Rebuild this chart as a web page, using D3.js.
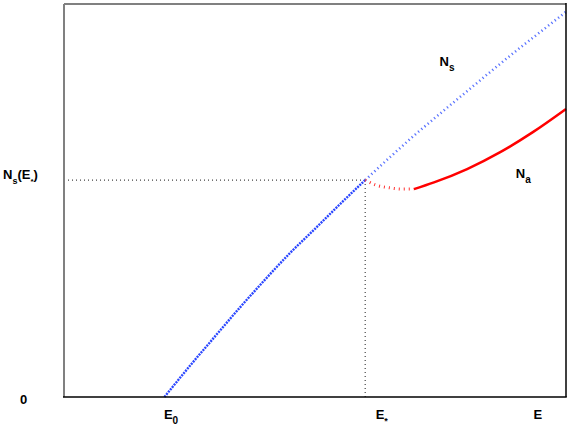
<!DOCTYPE html>
<html>
<head>
<meta charset="utf-8">
<script src="https://cdn.jsdelivr.net/npm/d3@7"></script>
<style>
  body { margin: 0; background: #fff; }
  text { font-family: "Liberation Sans", Arial, sans-serif; font-weight: bold; fill: #000; }
</style>
</head>
<body>
<div id="chart"></div>
<script>
// energy axis marks
var E0 = 2, Estar = 6, Emax = 10;
var NsEstar = 5.52;

// N_s(E) below E* (solid) and above E* (dotted)
var nsLow = [[2.0, 0], [2.5, 0.78], [3.0, 1.53], [3.5, 2.27], [4.0, 2.98], [4.5, 3.66], [5.0, 4.28], [5.5, 4.91], [6.0, 5.52]];
var nsHigh = [[6.0, 5.52], [6.5, 6.11], [7.0, 6.68], [7.5, 7.22], [8.0, 7.75], [8.5, 8.28], [9.0, 8.80], [9.5, 9.30], [10.0, 9.80]];

// N_a(E): dashed dip then solid rise
var naDip = [[6.0, 5.52], [6.2, 5.40], [6.5, 5.32], [6.75, 5.29], [6.97, 5.29]];
var naRise = [[6.97, 5.29], [7.37, 5.46], [8.03, 5.80], [8.69, 6.23], [9.34, 6.74], [10.0, 7.33]];

var svg = d3.select("#chart").append("svg"),
    width = 573,
    height = 436;
svg.attr("width", width).attr("height", height);

var pLeft = 64, pRight = 566, pTop = 4, pBottom = 397;

var x = d3.scaleLinear().domain([0, Emax]).range([pLeft, pRight]);
var y = d3.scaleLinear().domain([0, 10]).range([pBottom, pTop]);

var line = d3.line()
    .x(function(d) { return x(d[0]); })
    .y(function(d) { return y(d[1]); })
    .curve(d3.curveMonotoneX);

// reference lines at E*
svg.append("line")
    .attr("x1", x(0)).attr("x2", x(Estar))
    .attr("y1", y(NsEstar)).attr("y2", y(NsEstar))
    .attr("stroke", "#444").attr("stroke-width", 1.2)
    .attr("stroke-dasharray", "1,3");
svg.append("line")
    .attr("x1", x(Estar)).attr("x2", x(Estar))
    .attr("y1", y(NsEstar)).attr("y2", y(0))
    .attr("stroke", "#444").attr("stroke-width", 1.2)
    .attr("stroke-dasharray", "1,3");

svg.append("path").datum(nsLow)
    .attr("d", line).attr("fill", "none")
    .attr("stroke", "#2a46ff").attr("stroke-width", 2.4)
    .attr("stroke-dasharray", "2,1");

svg.append("path").datum(nsHigh)
    .attr("d", line).attr("fill", "none")
    .attr("stroke", "#5a73ff").attr("stroke-width", 2.6)
    .attr("stroke-dasharray", "1.2,3");

svg.append("path").datum(naDip)
    .attr("d", line).attr("fill", "none")
    .attr("stroke", "#ff3030").attr("stroke-width", 3)
    .attr("stroke-dasharray", "1,4");

svg.append("path").datum(naRise)
    .attr("d", line).attr("fill", "none")
    .attr("stroke", "#ff0000").attr("stroke-width", 2.5);

// frame: grey left/top, black right/bottom
svg.append("line").attr("x1", pLeft).attr("x2", pLeft).attr("y1", pTop).attr("y2", pBottom)
    .attr("stroke", "#808080").attr("stroke-width", 2);
svg.append("line").attr("x1", pLeft).attr("x2", pRight).attr("y1", pTop).attr("y2", pTop)
    .attr("stroke", "#808080").attr("stroke-width", 2);
svg.append("line").attr("x1", pRight).attr("x2", pRight).attr("y1", pTop - 1).attr("y2", pBottom)
    .attr("stroke", "#000").attr("stroke-width", 1.5);
svg.append("line").attr("x1", pLeft - 1).attr("x2", pRight + 0.75).attr("y1", pBottom).attr("y2", pBottom)
    .attr("stroke", "#000").attr("stroke-width", 1.5);

// labels with subscripts
function label(sel, main, sub, subSize) {
    sel.text(null);
    sel.append("tspan").text(main);
    if (sub) {
        sel.append("tspan").attr("dy", 5).attr("font-size", subSize || 9).text(sub);
    }
}

var xAxis = d3.axisBottom(x)
    .tickValues([E0, Estar, Emax])
    .tickSize(0);
var gx = svg.append("g")
    .attr("transform", "translate(0," + (pBottom + 9) + ")")
    .call(xAxis);
gx.select(".domain").remove();
gx.selectAll("text")
    .attr("font-size", 13).attr("font-family", null).attr("text-anchor", "start")
    .attr("dy", null).attr("y", 13)
    .each(function(d) {
        var t = d3.select(this);
        if (d === E0) { t.attr("x", -1); label(t, "E", "0", 10); }
        else if (d === Estar) { t.attr("x", 10); label(t, "E", "*", 9); }
        else { t.attr("x", -33); label(t, "E"); }
    });

var yAxis = d3.axisLeft(y)
    .tickValues([0, NsEstar])
    .tickSize(0);
var gy = svg.append("g")
    .attr("transform", "translate(" + pLeft + ",0)")
    .call(yAxis);
gy.select(".domain").remove();
gy.selectAll("text")
    .attr("font-size", 13).attr("font-family", null).attr("text-anchor", "start")
    .attr("dy", null)
    .each(function(d) {
        var t = d3.select(this);
        if (d === 0) { t.attr("x", -44).attr("y", 6); label(t, "0"); }
        else {
            t.attr("x", -61).attr("y", -2);
            t.text(null);
            t.append("tspan").text("N");
            t.append("tspan").attr("dy", 5).attr("font-size", 9).text("s");
            t.append("tspan").attr("dy", -5).text("(E");
            t.append("tspan").attr("dy", 5).attr("font-size", 8).text("*");
            t.append("tspan").attr("dy", -5).text(")");
        }
    });

// curve names
label(svg.append("text").attr("x", x(7.48)).attr("y", y(8.42)).attr("font-size", 13), "N", "s", 10);
label(svg.append("text").attr("x", x(9.0)).attr("y", y(5.57)).attr("font-size", 13), "N", "a", 10);
</script>
</body>
</html>
